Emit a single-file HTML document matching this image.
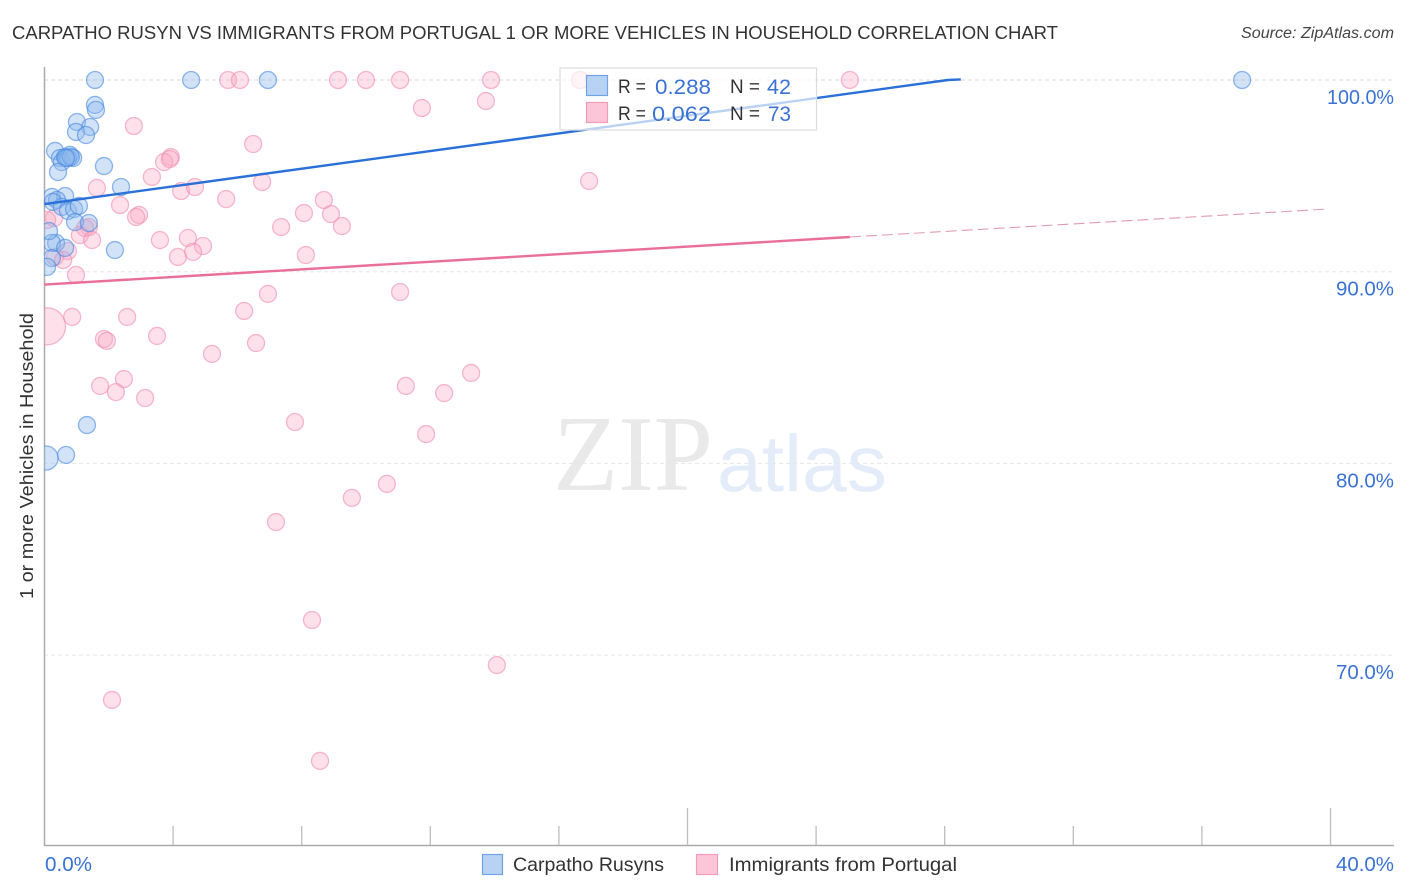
<!DOCTYPE html>
<html lang="en">
<head>
<meta charset="utf-8">
<title>Carpatho Rusyn vs Immigrants from Portugal correlation chart</title>
<style>
html,body{margin:0;padding:0;background:#fff;}
svg{display:block;font-family:"Liberation Sans",sans-serif;}
</style>
</head>
<body>
<svg id="chart" xmlns="http://www.w3.org/2000/svg" width="1406" height="892" viewBox="0 0 1406 892">
  <defs>
    <clipPath id="plot-clip"><rect x="44" y="60" width="1350" height="786"/></clipPath>
  </defs>
  <rect width="1406" height="892" fill="#fff"/>
  <text x="12" y="39" font-size="18.5" fill="#333" textLength="1046" lengthAdjust="spacingAndGlyphs">CARPATHO RUSYN VS IMMIGRANTS FROM PORTUGAL 1 OR MORE VEHICLES IN HOUSEHOLD CORRELATION CHART</text>
  <text x="1241" y="38" font-size="15.5" font-style="italic" fill="#444" textLength="153" lengthAdjust="spacingAndGlyphs">Source: ZipAtlas.com</text>

  <g>
    <text x="553" y="490" font-family="'Liberation Serif',serif" font-size="108" fill="#e9e9e9" textLength="160" lengthAdjust="spacingAndGlyphs">ZIP</text>
    <text x="717" y="491" font-size="80" fill="#e4ecf9" textLength="170" lengthAdjust="spacingAndGlyphs">atlas</text>
  </g>

  <g id="grid"></g>
  <g id="axes"></g>
  <text transform="translate(33,456) rotate(-90)" font-size="18.5" fill="#333" text-anchor="middle" textLength="286" lengthAdjust="spacingAndGlyphs">1 or more Vehicles in Household</text>
  <g id="pink-points" clip-path="url(#plot-clip)"></g>
  <g id="blue-points" clip-path="url(#plot-clip)"></g>
  <g id="trends"></g>

  <g>
    <rect x="560" y="68" width="256.5" height="62" fill="#fff" fill-opacity="0.68" stroke="#dcdcdc" stroke-width="1.2"/>
    <rect x="586.5" y="75.5" width="21" height="20" fill="#b8d2f4" stroke="#6fa3e6" stroke-width="1.2"/>
    <text x="618" y="93" font-size="19" fill="#333" textLength="28" lengthAdjust="spacingAndGlyphs">R =</text>
    <text x="655" y="94" font-size="21.5" fill="#3a72d4" textLength="56" lengthAdjust="spacingAndGlyphs">0.288</text>
    <text x="730" y="93" font-size="19" fill="#333" textLength="30" lengthAdjust="spacingAndGlyphs">N =</text>
    <text x="767" y="94" font-size="21.5" fill="#3a72d4" textLength="24" lengthAdjust="spacingAndGlyphs">42</text>
    <rect x="586.5" y="102.5" width="21" height="20" fill="#fcc6d8" stroke="#f39bb8" stroke-width="1.2"/>
    <text x="618" y="120" font-size="19" fill="#333" textLength="28" lengthAdjust="spacingAndGlyphs">R =</text>
    <text x="652" y="121" font-size="21.5" fill="#3a72d4" textLength="59" lengthAdjust="spacingAndGlyphs">0.062</text>
    <text x="730" y="120" font-size="19" fill="#333" textLength="30" lengthAdjust="spacingAndGlyphs">N =</text>
    <text x="768" y="121" font-size="21.5" fill="#3a72d4" textLength="23" lengthAdjust="spacingAndGlyphs">73</text>
  </g>

  <g>
    <rect x="482.5" y="854.5" width="20" height="20" fill="#b8d2f4" stroke="#6fa3e6" stroke-width="1.2"/>
    <text x="513" y="871" font-size="19.5" fill="#333" textLength="151" lengthAdjust="spacingAndGlyphs">Carpatho Rusyns</text>
    <rect x="696.5" y="854.5" width="21" height="20" fill="#fcc6d8" stroke="#f39bb8" stroke-width="1.2"/>
    <text x="729" y="871" font-size="19.5" fill="#333" textLength="228" lengthAdjust="spacingAndGlyphs">Immigrants from Portugal</text>
  </g>
</svg>
<script>
// x axis: percent of Carpatho Rusyn / Portuguese share; y axis: percent with 1+ vehicles
const yTickValues = [100, 90, 80, 70];
const yTickLabels = ["100.0%", "90.0%", "80.0%", "70.0%"];
const xTickValues = [0, 4, 8, 12, 16, 20, 24, 28, 32, 36, 40];
const xMajorTicks = [20, 40];
const xEndLabels = ["0.0%", "40.0%"];

const blueX = [1.57,4.56,6.95,37.25,1.57,1.60,1.01,1.42,0.98,1.29,0.33,0.48,0.54,0.79,0.64,0.89,0.73,0.82,0.67,1.85,0.42,2.38,0.23,0.64,0.39,0.26,0.54,0.73,0.92,1.07,0.95,1.38,2.19,0.36,0.23,0.64,0.14,0.23,0.08,1.32,0.67,0.05];
const blueY = [100,100,100,100,98.70,98.44,97.81,97.55,97.29,97.13,96.30,95.93,95.72,96.09,95.98,95.93,95.93,95.98,95.93,95.51,95.20,94.42,93.90,93.95,93.74,93.64,93.38,93.17,93.27,93.43,92.59,92.54,91.13,91.50,91.50,91.24,92.12,90.71,90.25,82.00,80.44,80.28];
const blueLargeIndex = [41];
const blueLargeRadius = [12];

const pinkX = [5.71,6.08,9.13,10.00,11.06,13.89,16.66,25.05,11.74,13.73,2.78,6.49,3.93,3.72,3.90,3.34,6.77,1.63,16.94,4.25,4.68,5.65,2.35,2.94,2.85,8.69,8.07,8.91,9.25,7.36,0.30,0.08,1.38,1.26,1.10,1.48,3.59,4.46,4.93,4.62,4.15,8.13,0.73,0.33,0.58,0.98,6.95,11.06,6.21,0.86,2.57,3.50,1.85,1.94,6.58,5.21,0.08,13.27,2.47,1.73,11.24,2.22,12.43,3.13,7.79,11.87,9.56,10.65,7.20,8.32,14.07,2.10,8.57];
const pinkY = [100,100,100,100,100,100,100,100,98.54,98.90,97.60,96.66,95.98,95.72,95.88,94.94,94.68,94.37,94.73,94.21,94.42,93.79,93.48,92.96,92.85,93.74,93.06,93.01,92.38,92.33,92.80,92.70,92.33,92.28,91.91,91.65,91.65,91.76,91.34,91.03,90.77,90.87,91.08,90.77,90.61,89.83,88.84,88.94,87.95,87.64,87.64,86.65,86.49,86.39,86.28,85.71,87.15,84.72,84.40,84.04,84.04,83.72,83.67,83.41,82.16,81.53,78.20,78.93,76.94,71.83,69.48,67.66,64.48];
const pinkLargeIndex = [56];
const pinkLargeRadius = [18.5];

const blueTrendX = [0, 28.1, 28.5];
const blueTrendY = [93.53, 100, 100.03];
const pinkTrendX = [0, 25.05];
const pinkTrendY = [89.33, 91.81];
const pinkDashX = [25.05, 39.92];
const pinkDashY = [91.81, 93.27];

const NS = 'http://www.w3.org/2000/svg';
function xPos(v) { return 44.5 + v * 32.15; }
function yPos(v) { return 80 + (100 - v) * 19.17; }
function make(parent, tag, attrs) {
  const el = document.createElementNS(NS, tag);
  for (const k in attrs) el.setAttribute(k, attrs[k]);
  parent.appendChild(el);
  return el;
}

const grid = document.getElementById('grid');
yTickValues.forEach(function (v, i) {
  const line = make(grid, 'line', { x1: 44, x2: 1394, y1: yPos(v), y2: yPos(v), stroke: i === 0 ? '#d8d8d8' : '#e6e6e6', 'stroke-width': 1, 'stroke-dasharray': '4 3' });
  
  
});

const axes = document.getElementById('axes');
const yAxisLine = make(axes, 'line', { x1: 44.5, x2: 44.5, y1: 67, y2: 846, stroke: '#aaa', 'stroke-width': 1.5 });


const xAxisLine = make(axes, 'line', { x1: 44, x2: 1394, y1: 845.5, y2: 845.5, stroke: '#aaa', 'stroke-width': 1.5 });



xTickValues.forEach(function (v) {
  if (v === 0) return;
  const top = xMajorTicks.indexOf(v) >= 0 ? 808 : 826;
  const tick = make(axes, 'line', { x1: xPos(v), x2: xPos(v), y1: top, y2: 845, stroke: '#bdbdbd', 'stroke-width': 1.3 });
  
  
});

yTickLabels.forEach(function (label, i) {
  const w = label.length > 5 ? 67 : 58;
  const t = make(axes, 'text', { x: 1394 - w, y: yPos(yTickValues[i]) + 24, 'font-size': 20, fill: '#3a72d4', textLength: w, lengthAdjust: 'spacingAndGlyphs' });
  t.textContent = label;
  
  
});

const x0Label = make(axes, 'text', { x: 45, y: 871, 'font-size': 20, fill: '#3a72d4', textLength: 47, lengthAdjust: 'spacingAndGlyphs' });
x0Label.textContent = xEndLabels[0];


const x40Label = make(axes, 'text', { x: 1336, y: 871, 'font-size': 20, fill: '#3a72d4', textLength: 58, lengthAdjust: 'spacingAndGlyphs' });
x40Label.textContent = xEndLabels[1];



function radiusFor(i, largeIndex, largeRadius) {
  const k = largeIndex.indexOf(i);
  return k >= 0 ? largeRadius[k] : 8.5;
}

const pinkGroup = document.getElementById('pink-points');
pinkX.forEach(function (v, i) {
  const c = make(pinkGroup, 'circle', { cx: xPos(v), cy: yPos(pinkY[i]), r: radiusFor(i, pinkLargeIndex, pinkLargeRadius), fill: '#f9a8c4', 'fill-opacity': 0.36, stroke: '#f08cae', 'stroke-opacity': 0.6, 'stroke-width': 1.3 });
  
  
});

const blueGroup = document.getElementById('blue-points');
blueX.forEach(function (v, i) {
  const c = make(blueGroup, 'circle', { cx: xPos(v), cy: yPos(blueY[i]), r: radiusFor(i, blueLargeIndex, blueLargeRadius), fill: '#8fb9ee', 'fill-opacity': 0.4, stroke: '#4a8ae0', 'stroke-opacity': 0.62, 'stroke-width': 1.3 });
  
  
});

function pointsOf(xs, ys) {
  return xs.map(function (v, i) { return xPos(v) + ',' + yPos(ys[i]); }).join(' ');
}
const trends = document.getElementById('trends');
const pinkDash = make(trends, 'polyline', { points: pointsOf(pinkDashX, pinkDashY), fill: 'none', stroke: '#e39ab5', 'stroke-width': 1.1, 'stroke-dasharray': '11 5' });


const pinkLine = make(trends, 'polyline', { points: pointsOf(pinkTrendX, pinkTrendY), fill: 'none', stroke: '#ea6e9a', 'stroke-width': 2.4 });


const blueLine = make(trends, 'polyline', { points: pointsOf(blueTrendX, blueTrendY), fill: 'none', stroke: '#2a70d8', 'stroke-width': 2.4 });


</script>
</body>
</html>
